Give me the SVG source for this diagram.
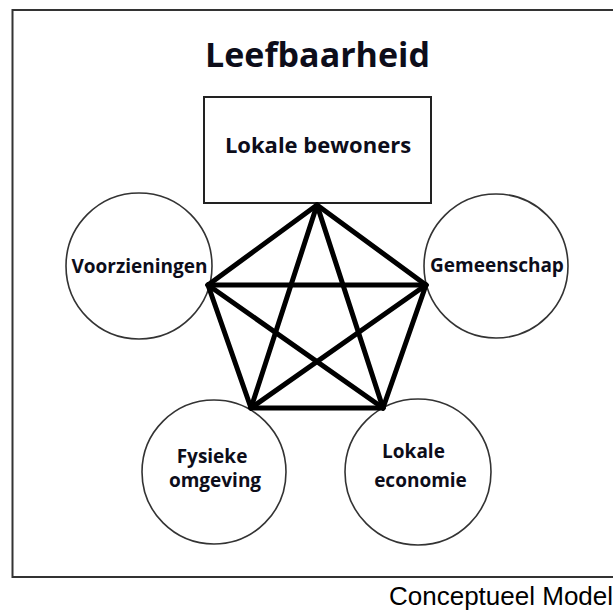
<svg xmlns="http://www.w3.org/2000/svg" width="613" height="614" viewBox="0 0 613 614">
<style>
.frame{fill:none;stroke:#333;stroke-width:2}
.node{fill:#fff;stroke:#333;stroke-width:1.6}
.box{fill:#fff;stroke:#222;stroke-width:2}
.lbl{font-family:"Open Sans","DejaVu Sans",sans-serif;font-weight:700;fill:#0d0d1a;text-anchor:middle}
.edge{stroke:#000;stroke-width:5;stroke-linecap:round;fill:none}
.cap{font-family:"Liberation Sans",Arial,sans-serif;fill:#000;font-size:26px}
</style>
<rect width="613" height="614" fill="#fff"/>
<rect class="frame" x="12.5" y="10" width="640" height="567"/>
<text class="lbl" x="317.5" y="67" font-size="34">Leefbaarheid</text>
<g id="voorzieningen">
<circle class="node" cx="139" cy="266" r="73"/>
<text class="lbl" x="139.5" y="273" font-size="19">Voorzieningen</text>
</g>
<g id="gemeenschap">
<circle class="node" cx="496" cy="266" r="72"/>
<text class="lbl" x="497" y="272" font-size="19">Gemeenschap</text>
</g>
<g id="fysieke-omgeving">
<circle class="node" cx="214" cy="472" r="72"/>
<text class="lbl" x="212" y="463" font-size="19">Fysieke</text>
<text class="lbl" x="215" y="487" font-size="19">omgeving</text>
</g>
<g id="lokale-economie">
<circle class="node" cx="418" cy="472" r="73"/>
<text class="lbl" x="413.5" y="458" font-size="19">Lokale</text>
<text class="lbl" x="420.5" y="487" font-size="19">economie</text>
</g>
<g id="lokale-bewoners">
<rect class="box" x="204" y="97" width="227" height="106"/>
<text class="lbl" x="318" y="153" font-size="22">Lokale bewoners</text>
</g>
<g id="connectors">
<line class="edge" x1="317" y1="205" x2="208" y2="285"/>
<line class="edge" x1="317" y1="205" x2="426" y2="285"/>
<line class="edge" x1="317" y1="205" x2="251" y2="408"/>
<line class="edge" x1="317" y1="205" x2="383" y2="408"/>
<line class="edge" x1="208" y1="285" x2="426" y2="285"/>
<line class="edge" x1="208" y1="285" x2="251" y2="408"/>
<line class="edge" x1="208" y1="285" x2="383" y2="408"/>
<line class="edge" x1="426" y1="285" x2="251" y2="408"/>
<line class="edge" x1="426" y1="285" x2="383" y2="408"/>
<line class="edge" x1="251" y1="408" x2="383" y2="408"/>
</g>
<text class="cap" x="389" y="605">Conceptueel Model</text>
</svg>
